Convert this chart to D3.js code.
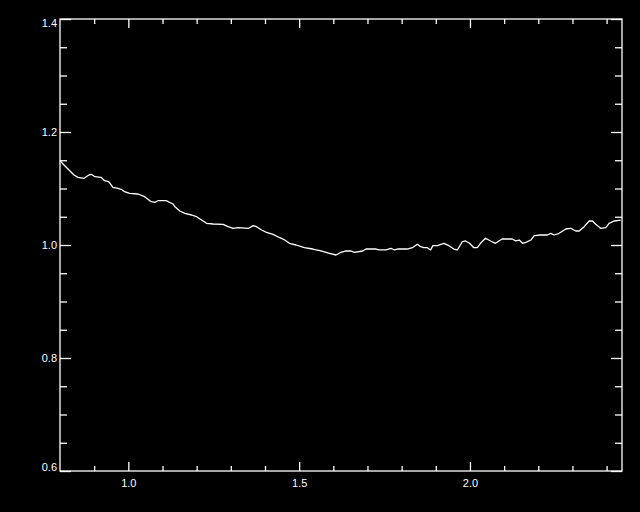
<!DOCTYPE html>
<html>
<head>
<meta charset="utf-8">
<script src="https://cdn.jsdelivr.net/npm/d3@7"></script>
<style>
html, body { margin: 0; padding: 0; background: #000; }
svg { display: block; }
</style>
</head>
<body>
<script>
// Data
const xValues = [0.800,0.8117,0.8263,0.8409,0.8526,0.8702,0.8848,0.8915,0.9023,0.9199,0.9307,0.9424,0.9550,0.9696,0.9792,0.9892,1.0038,1.0281,1.0477,1.0670,1.0787,1.0865,1.1108,1.1304,1.1363,1.1509,1.1655,1.1851,1.1997,1.2143,1.2289,1.2482,1.2775,1.2921,1.3067,1.3213,1.3526,1.3652,1.3751,1.3898,1.4044,1.4237,1.4433,1.4579,1.4716,1.4909,1.5155,1.5398,1.5640,1.5886,1.6079,1.6225,1.6371,1.6518,1.6617,1.6860,1.6956,1.7249,1.7348,1.7541,1.7687,1.7787,1.7883,1.8167,1.8313,1.8459,1.8556,1.8652,1.8751,1.8848,1.8915,1.9044,1.9237,1.9383,1.9529,1.9629,1.9775,1.9871,1.9988,2.0114,2.0213,2.0310,2.0456,2.0602,2.0749,2.0845,2.0944,2.1187,2.1234,2.1342,2.1442,2.1538,2.1635,2.1781,2.1880,2.2073,2.2269,2.2365,2.2465,2.2611,2.2804,2.2950,2.3096,2.3196,2.3342,2.3488,2.3585,2.3681,2.3827,2.3974,2.4073,2.4219,2.4412];
const yValues = [1.1492,1.1416,1.1327,1.1239,1.1198,1.1181,1.1239,1.1251,1.1209,1.1198,1.1138,1.1120,1.1021,1.1004,1.0986,1.0943,1.0915,1.0903,1.0855,1.0766,1.0756,1.0784,1.0784,1.0726,1.0678,1.0602,1.0561,1.0531,1.0501,1.0442,1.0384,1.0372,1.0366,1.0324,1.0296,1.0306,1.0296,1.0342,1.0324,1.0265,1.0225,1.0189,1.0129,1.0088,1.0030,1.0000,0.9952,0.9929,0.9894,0.9853,0.9823,0.9871,0.9894,0.9894,0.9871,0.9894,0.9929,0.9929,0.9912,0.9912,0.9942,0.9912,0.9929,0.9929,0.9952,1.0012,0.9970,0.9952,0.9952,0.9912,0.9988,0.9988,1.0030,0.9988,0.9929,0.9912,1.0058,1.0071,1.0030,0.9952,0.9952,1.0030,1.0119,1.0071,1.0030,1.0071,1.0106,1.0106,1.0106,1.0071,1.0088,1.0030,1.0048,1.0088,1.0165,1.0177,1.0177,1.0207,1.0177,1.0207,1.0283,1.0296,1.0248,1.0248,1.0324,1.0425,1.0425,1.0366,1.0296,1.0306,1.0384,1.0425,1.0442];
const xDomain = [0.8, 2.445];
const yDomain = [0.6, 1.4];
const xMajorTicks = [1.0, 1.5, 2.0];
const xTickLabels = ["1.0", "1.5", "2.0"];
const xMinorTicks = [0.9,1.1,1.2,1.3,1.4,1.6,1.7,1.8,1.9,2.1,2.2,2.3,2.4];
const yMajorTicks = [0.6, 0.8, 1.0, 1.2, 1.4];
const yTickLabels = ["0.6", "0.8", "1.0", "1.2", "1.4"];
const yMinorTicks = [0.65,0.7,0.75,0.85,0.9,0.95,1.05,1.1,1.15,1.25,1.3,1.35];

const W = 640, H = 512;
const L = 60, R = 622, T = 19, B = 471;

const svg = d3.select("body").append("svg")
  .attr("width", W).attr("height", H)
  .style("background", "#000");

svg.append("rect").attr("width", W).attr("height", H).attr("fill", "#000");

const x = d3.scaleLinear().domain(xDomain).range([L, R]);
const y = d3.scaleLinear().domain(yDomain).range([B, T]);

const fontFamily = "'Liberation Sans', Arial, sans-serif";

function styleAxis(g) {
  g.select(".domain").remove();
  g.selectAll(".tick line").attr("stroke", "#fff").attr("stroke-width", 1.3);
  g.selectAll(".tick text").attr("fill", "#fff")
    .style("font-family", fontFamily).style("font-size", "11px");
}

// bottom axis (ticks inside)
const gB = svg.append("g").attr("transform", `translate(0,${B})`);
gB.call(d3.axisBottom(x).tickValues(xMajorTicks).tickSizeInner(-9).tickSizeOuter(0)
  .tickFormat((d, i) => xTickLabels[i]));
styleAxis(gB);
gB.selectAll(".tick text").attr("y", 8).attr("dy", "0.71em");
svg.append("g").attr("transform", `translate(0,${B})`)
  .call(d3.axisBottom(x).tickValues(xMinorTicks).tickSizeInner(-5).tickSizeOuter(0).tickFormat(""))
  .call(styleAxis);

// top axis
svg.append("g").attr("transform", `translate(0,${T})`)
  .call(d3.axisTop(x).tickValues(xMajorTicks).tickSizeInner(-9).tickSizeOuter(0).tickFormat(""))
  .call(styleAxis);
svg.append("g").attr("transform", `translate(0,${T})`)
  .call(d3.axisTop(x).tickValues(xMinorTicks).tickSizeInner(-5).tickSizeOuter(0).tickFormat(""))
  .call(styleAxis);

// left axis
const gL = svg.append("g").attr("transform", `translate(${L},0)`);
gL.call(d3.axisLeft(y).tickValues(yMajorTicks).tickSizeInner(-11).tickSizeOuter(0)
  .tickFormat((d, i) => yTickLabels[i]));
styleAxis(gL);
gL.selectAll(".tick text").attr("x", -3)
  .attr("dy", (d, i) => i === 0 ? "-0.05em" : (i === yMajorTicks.length - 1 ? "0.7em" : "0.36em"));
svg.append("g").attr("transform", `translate(${L},0)`)
  .call(d3.axisLeft(y).tickValues(yMinorTicks).tickSizeInner(-7).tickSizeOuter(0).tickFormat(""))
  .call(styleAxis);

// right axis
svg.append("g").attr("transform", `translate(${R},0)`)
  .call(d3.axisRight(y).tickValues(yMajorTicks).tickSizeInner(-11).tickSizeOuter(0).tickFormat(""))
  .call(styleAxis);
svg.append("g").attr("transform", `translate(${R},0)`)
  .call(d3.axisRight(y).tickValues(yMinorTicks).tickSizeInner(-7).tickSizeOuter(0).tickFormat(""))
  .call(styleAxis);

// frame
svg.append("rect")
  .attr("x", x(xDomain[0])).attr("y", y(yDomain[1]))
  .attr("width", x(xDomain[1]) - x(xDomain[0]))
  .attr("height", y(yDomain[0]) - y(yDomain[1]))
  .attr("fill", "none").attr("stroke", "#fff").attr("stroke-width", 1.3);

// line
const pts = xValues.map((d, i) => [d, yValues[i]]);
svg.append("path")
  .datum(pts)
  .attr("fill", "none")
  .attr("stroke", "#fff")
  .attr("stroke-width", 1.3)
  .attr("stroke-linejoin", "round")
  .attr("d", d3.line().x(d => x(d[0])).y(d => y(d[1])));
</script>
</body>
</html>
